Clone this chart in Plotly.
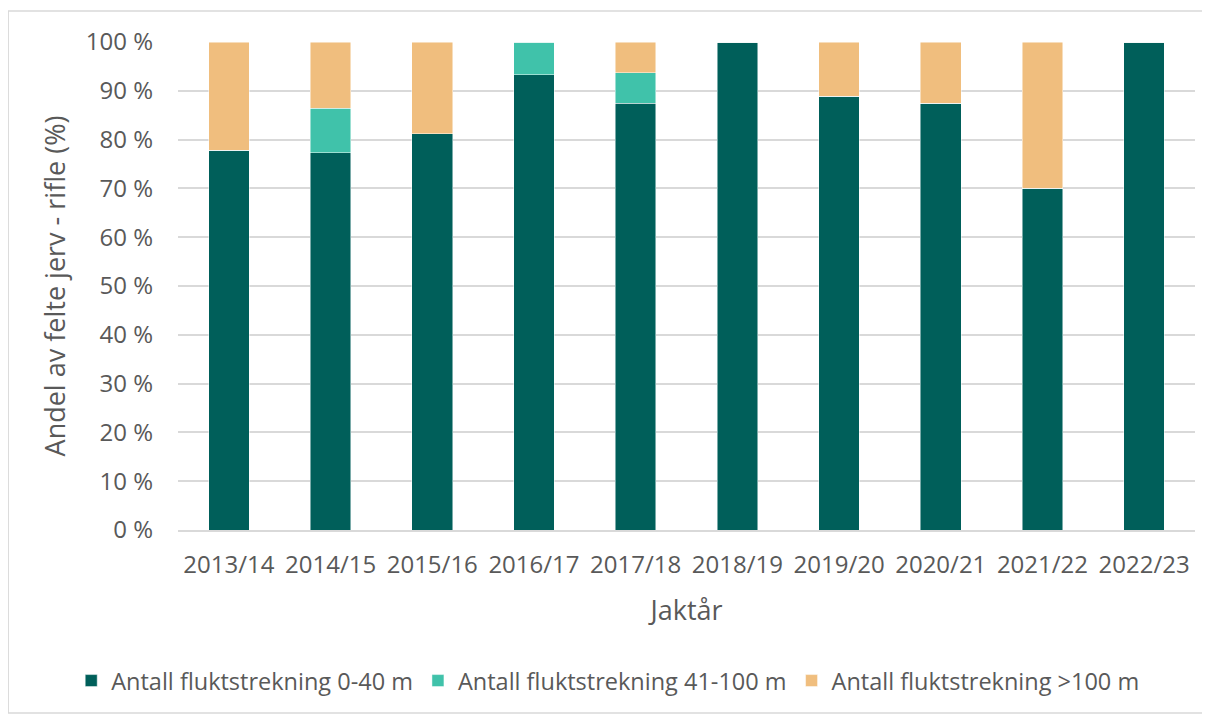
import plotly.graph_objects as go

seasons = ["2013/14", "2014/15", "2015/16", "2016/17", "2017/18",
           "2018/19", "2019/20", "2020/21", "2021/22", "2022/23"]
short_range = [77.8, 77.3, 81.25, 93.3, 87.5, 100, 88.9, 87.5, 70.0, 100]
mid_range = [0, 9.1, 0, 6.7, 6.25, 0, 0, 0, 0, 0]
long_range = [22.2, 13.6, 18.75, 0, 6.25, 0, 11.1, 12.5, 30.0, 0]

names = ["Antall fluktstrekning 0-40 m", "Antall fluktstrekning 41-100 m",
         "Antall fluktstrekning >100 m"]
colors = ["#005F5A", "#40C2AA", "#F0BE7E"]

FONT = "Open Sans"
GREY = "#595959"

fig = go.Figure()
for vals, name, col in zip([short_range, mid_range, long_range], names, colors):
    fig.add_trace(go.Bar(
        x=seasons, y=vals, name=name, width=0.4,
        marker=dict(color=col, line=dict(color="rgba(255,255,255,0.6)", width=0.8)),
    ))

# outer chart border
fig.add_shape(type="rect", xref="paper", yref="paper",
              x0=-0.167, x1=1.0128, y0=-0.375, y1=1.0635,
              line=dict(color="#D9D9D9", width=1.5), layer="below")

# page body adds an 8px offset, so the figure is 8px smaller than the window
fig.update_layout(
    width=1202, height=707,
    barmode="stack",
    plot_bgcolor="white", paper_bgcolor="white",
    margin=dict(l=170, r=15, t=34, b=185, autoexpand=False),
    font=dict(family=FONT, color=GREY, size=24),
    showlegend=True,
    # anchored left of the plot area so the legend may use the full width
    legend=dict(orientation="h", x=-0.105, xanchor="left", y=-0.309, yanchor="middle",
                font=dict(size=23.5, color=GREY), traceorder="normal",
                itemwidth=30),
)
fig.update_xaxes(
    title=dict(text="Jaktår", font=dict(size=27, color=GREY), standoff=22),
    showline=True, linecolor="#D9D9D9", linewidth=2,
    tickfont=dict(size=24, color=GREY), ticks="", ticklabelstandoff=12,
)
fig.update_yaxes(
    title=dict(text="Andel av felte jerv - rifle (%)", font=dict(size=27, color=GREY), standoff=12),
    range=[0, 100], dtick=10, ticksuffix=" %",
    showgrid=True, gridcolor="#D9D9D9", gridwidth=1.5,
    zeroline=False, ticklabelstandoff=24,
    tickfont=dict(size=24, color=GREY),
)

fig.write_html("out.html")
